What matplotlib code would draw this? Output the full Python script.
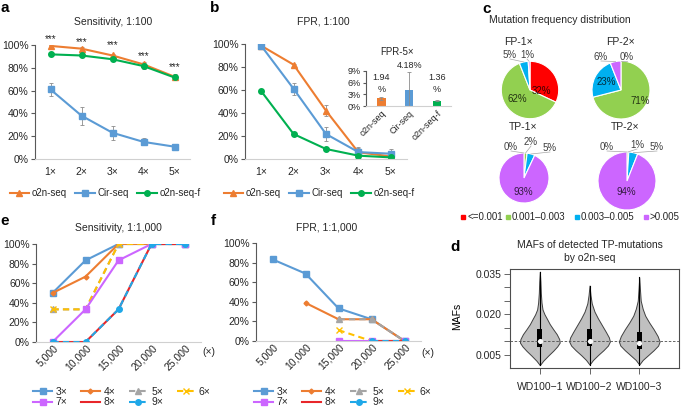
import numpy as np
import matplotlib.pyplot as plt
from matplotlib.lines import Line2D
import matplotlib.transforms as mtransforms

plt.rcParams['font.family'] = ['Liberation Sans', 'DejaVu Sans']
plt.rcParams['font.size'] = 7
plt.rcParams['text.color'] = '#262626'
plt.rcParams['xtick.color'] = '#262626'
plt.rcParams['ytick.color'] = '#262626'

# ---- data ----
folds = ['1×', '2×', '3×', '4×', '5×']
methods = ['o2n-seq', 'Cir-seq', 'o2n-seq-f']

# a: sensitivity 1:100 (%)
sens_o2n = [99.2, 96.8, 90.8, 83.0, 72.2]
sens_o2n_err = [1.0, 1.5, 1.5, 2.5, 2.5]
sens_cir = [61.0, 38.0, 23.0, 15.0, 10.8]
sens_cir_err = [6.0, 8.0, 6.0, 3.0, 2.0]
sens_o2nf = [91.8, 90.8, 87.5, 81.5, 71.5]
sens_o2nf_err = [1.0, 1.0, 1.5, 2.5, 2.0]
star_y = [105, 103, 100, 90.5, 81]

# b: FPR 1:100 (%)
fpr_o2n = [98.5, 82.0, 42.0, 5.8, 2.3]
fpr_o2n_err = [0.5, 1.0, 5.0, 3.5, 1.0]
fpr_cir = [98.5, 61.0, 21.7, 6.0, 4.6]
fpr_cir_err = [1.0, 5.0, 6.0, 4.0, 4.0]
fpr_o2nf = [59.0, 21.7, 8.7, 2.9, 1.4]
fpr_o2nf_err = [0.5, 0.5, 1.0, 0.5, 0.5]

# b inset: FPR-5x
fpr5 = [1.94, 4.18, 1.36]
fpr5_err = [0.3, 4.5, 0.15]
fpr5_label_y = [3.0, 9.2, 3.0]

# c: mutation frequency distribution (%)
pie_titles = ['FP-1×', 'FP-2×', 'TP-1×', 'TP-2×']
pie_vals = [[32, 62, 5, 1], [0, 71, 23, 6], [0, 2, 5, 93], [0, 1, 5, 94]]
maf_bins = ['<=0.001', '0.001–0.003', '0.003–0.005', '>0.005']

# d: violin outlines (MAF, half width)
vio_names = ['WD100−1', 'WD100−2', 'WD100−3']
vio_y = [
    [0.0013, 0.0029, 0.0048, 0.0066, 0.0082, 0.0096, 0.0109, 0.0127, 0.0145, 0.0164,
     0.0182, 0.0200, 0.0218, 0.0243, 0.0279, 0.0320, 0.0357],
    [0.0015, 0.0032, 0.0050, 0.0068, 0.0085, 0.0100, 0.0115, 0.0135, 0.0160, 0.0185,
     0.0210, 0.0240, 0.0270, 0.0306],
    [0.0015, 0.0032, 0.0050, 0.0068, 0.0085, 0.0100, 0.0120, 0.0145, 0.0170, 0.0195,
     0.0220, 0.0250, 0.0290, 0.0336],
]
vio_w = [
    [0.0, 0.067, 0.168, 0.27, 0.35, 0.40, 0.39, 0.34, 0.27, 0.20,
     0.148, 0.094, 0.054, 0.034, 0.02, 0.012, 0.0],
    [0.0, 0.07, 0.17, 0.28, 0.37, 0.41, 0.39, 0.33, 0.25, 0.17,
     0.10, 0.045, 0.02, 0.0],
    [0.0, 0.07, 0.18, 0.29, 0.38, 0.41, 0.37, 0.29, 0.20, 0.12,
     0.07, 0.03, 0.015, 0.0],
]
vio_q1 = [0.0079, 0.0084, 0.0072]
vio_q3 = [0.0145, 0.0145, 0.0135]
vio_med = [0.0102, 0.0102, 0.0096]

# e/f: 1:1,000 dilution
depths = ['5,000', '10,000', '15,000', '20,000', '25,000']
series_names = ['3×', '4×', '5×', '6×', '7×', '8×', '9×']
nan = np.nan
sens_1000 = [
    [50, 83.3, 100, 100, 100],
    [50, 66.7, 100, 100, 100],
    [33.3, 33.3, 100, 100, 100],
    [33.3, 33.3, 100, 100, 100],
    [0, 33.3, 83.3, 100, 100],
    [0, 0, 33.3, 100, 100],
    [0, 0, 33.3, 100, 100],
]
fpr_1000 = [
    [83.3, 68.8, 33.3, 22.2, 0],
    [nan, 38.9, 22.2, 22.2, 0],
    [nan, nan, 22.2, 22.2, 0],
    [nan, nan, 11.1, 0, 0],
    [nan, nan, 0, 0, 0],
    [nan, nan, nan, 0, 0],
    [nan, nan, nan, 0, 0],
]

# ---- styles ----
c_orange = '#ED7D31'
c_blue = '#5B9BD5'
c_green = '#00B050'
pie_colors = ['#FF0000', '#92D050', '#00B0F0', '#CC66FF']
ser_style = [
    dict(color='#5B9BD5', marker='s', ms=4, ls='-'),
    dict(color='#ED7D31', marker='D', ms=2.5, ls='-'),
    dict(color='#A5A5A5', marker='^', ms=4, ls=(0, (3, 2))),
    dict(color='#FFC000', marker='x', ms=4, ls=(0, (3, 2))),
    dict(color='#CC66FF', marker='s', ms=4, ls='-'),
    dict(color='#E8262A', marker='None', ms=0, ls='-'),
    dict(color='#1FA8E8', marker='o', ms=4, ls=(0, (3, 2))),
]

W, H = 685, 409
fig = plt.figure(figsize=(W / 100, H / 100), dpi=100)


def box(l, t, r, b):
    return [l / W, 1 - b / H, (r - l) / W, (b - t) / H]


def ftext(x, y, s, **kw):
    fig.text(x / W, 1 - y / H, s, **kw)


def excel_axes(ax):
    ax.patch.set_alpha(0)
    for s in ['top', 'right']:
        ax.spines[s].set_visible(False)
    ax.spines['left'].set_color('#595959')
    ax.spines['left'].set_linewidth(0.8)
    ax.spines['bottom'].set_color('#D0D0D0')
    ax.spines['bottom'].set_linewidth(0.8)
    ax.tick_params(axis='y', length=3, width=0.8, color='#595959', pad=1.5, labelsize=7.5)
    ax.tick_params(axis='x', length=0, pad=6, labelsize=7.5)


def pct_axis(ax, ticks):
    ax.set_yticks(ticks)
    ax.set_yticklabels([f'{t}%' for t in ticks])


x5 = np.arange(1, 6)
err_kw = dict(fmt='none', ecolor='#8c8c8c', elinewidth=0.6, capsize=1.5, capthick=0.6)

# ---- panel a ----
ax_a = fig.add_axes(box(35, 45, 190, 159))
excel_axes(ax_a)
ax_a.errorbar(x5, sens_o2n, yerr=sens_o2n_err, **err_kw)
ax_a.errorbar(x5, sens_cir, yerr=sens_cir_err, **err_kw)
ax_a.errorbar(x5, sens_o2nf, yerr=sens_o2nf_err, **err_kw)
ax_a.plot(x5, sens_o2n, color=c_orange, marker='^', ms=4, lw=1.5, label=methods[0])
ax_a.plot(x5, sens_cir, color=c_blue, marker='s', ms=4, lw=1.5, label=methods[1])
ax_a.plot(x5, sens_o2nf, color=c_green, marker='o', ms=4, lw=1.5, label=methods[2])
for xi, yi in zip(x5, star_y):
    ax_a.text(xi, yi, '***', ha='center', va='center', fontsize=7, clip_on=False)
ax_a.set_xlim(0.5, 5.5)
ax_a.set_ylim(0, 100)
ax_a.set_xticks(x5)
ax_a.set_xticklabels(folds)
pct_axis(ax_a, [0, 20, 40, 60, 80, 100])
ax_a.legend(loc='center', bbox_to_anchor=(105 / W, 1 - 193 / H), bbox_transform=fig.transFigure,
            ncol=3, frameon=False, fontsize=7, handlelength=2.0, handletextpad=0.25,
            columnspacing=0.9)
ftext(113, 22, 'Sensitivity, 1:100', ha='center', va='center', fontsize=7.5)

# ---- panel b ----
ax_b = fig.add_axes(box(245, 44, 407, 159))
excel_axes(ax_b)
ax_b.errorbar(x5, fpr_o2n, yerr=fpr_o2n_err, **err_kw)
ax_b.errorbar(x5, fpr_cir, yerr=fpr_cir_err, **err_kw)
ax_b.errorbar(x5, fpr_o2nf, yerr=fpr_o2nf_err, **err_kw)
ax_b.plot(x5, fpr_o2n, color=c_orange, marker='^', ms=4, lw=1.5, label=methods[0])
ax_b.plot(x5, fpr_cir, color=c_blue, marker='s', ms=4, lw=1.5, label=methods[1])
ax_b.plot(x5, fpr_o2nf, color=c_green, marker='o', ms=4, lw=1.5, label=methods[2])
ax_b.set_xlim(0.5, 5.5)
ax_b.set_ylim(0, 100)
ax_b.set_xticks(x5)
ax_b.set_xticklabels(folds)
pct_axis(ax_b, [0, 20, 40, 60, 80, 100])
ax_b.legend(loc='center', bbox_to_anchor=(319 / W, 1 - 193 / H), bbox_transform=fig.transFigure,
            ncol=3, frameon=False, fontsize=7, handlelength=2.0, handletextpad=0.25,
            columnspacing=0.9)
ftext(323, 21, 'FPR, 1:100', ha='center', va='center', fontsize=7.5)

# inset
ax_in = fig.add_axes(box(366, 71, 451, 106))
excel_axes(ax_in)
ax_in.bar(range(3), fpr5, width=0.3, color=[c_orange, c_blue, c_green],
          yerr=fpr5_err, error_kw=dict(ecolor='#8c8c8c', elinewidth=0.6, capsize=1.5, capthick=0.6))
for i, (v, ly) in enumerate(zip(fpr5, fpr5_label_y)):
    lab = f'{v:.2f}%' if i == 1 else f'{v:.2f}\n%'
    ax_in.text(i, ly, lab, ha='center', va='bottom', fontsize=6.5, linespacing=1.5, clip_on=False)
ax_in.set_xlim(-0.55, 2.5)
ax_in.set_ylim(0, 9)
pct_axis(ax_in, [0, 3, 6, 9])
ax_in.tick_params(axis='y', labelsize=6.5, length=2.5)
ax_in.set_xticks(range(3))
ax_in.set_xticklabels(methods, rotation=45, ha='right', va='top', rotation_mode='anchor', fontsize=6.5)
ax_in.tick_params(axis='x', pad=2)
ftext(397, 52, 'FPR-5×', ha='center', va='center', fontsize=7)

# ---- panel c ----
ftext(560, 20, 'Mutation frequency distribution', ha='center', va='center', fontsize=7.5)
pie_geom = [(530, 90, 28.7), (621, 90, 29), (524, 178, 25), (627, 181, 29)]
title_pos = [(518, 42), (620, 42), (523, 127), (625, 127)]
# label positions (px) for each wedge: red, green, blue, purple
lab_pos = [
    [(541, 91), (517, 99), (510, 55), (527, 55)],
    [(627, 57), (640, 101), (606, 82), (601, 57)],
    [(511, 147), (531, 142), (550, 148), (523, 192)],
    [(607, 147), (637, 145), (657, 147), (626, 192)],
]
inside = [[True, True, False, False], [False, True, True, False],
          [False, False, False, True], [False, False, False, True]]
for (cx, cy, r), vals, title, tp, lp, ins in zip(pie_geom, pie_vals, pie_titles, title_pos, lab_pos, inside):
    ax = fig.add_axes(box(cx - r, cy - r, cx + r, cy + r))
    ax.pie(vals, colors=pie_colors, startangle=90, counterclock=False,
           wedgeprops=dict(edgecolor='white', linewidth=0.8))
    ax.set_xlim(-1, 1)
    ax.set_ylim(-1, 1)
    ftext(tp[0], tp[1], title, ha='center', va='center', fontsize=7.5)
    start = 90.0
    for v, (lx, ly), inn in zip(vals, lp, ins):
        mid = np.deg2rad(start - v * 3.6 / 2)
        start -= v * 3.6
        ftext(lx, ly, f'{v}%', ha='center', va='center', fontsize=7, color='black', alpha=0.75)
        if not inn:
            rx, ry = cx + r * np.cos(mid), cy - r * np.sin(mid)
            fig.add_artist(Line2D([rx / W, lx / W], [1 - ry / H, 1 - (ly + 4) / H],
                                  transform=fig.transFigure, color='#a6a6a6', lw=0.5))

leg_x = [463, 508, 577, 646]
for x, col, lab in zip(leg_x, pie_colors, maf_bins):
    fig.add_artist(Line2D([x / W], [1 - 217 / H], transform=fig.transFigure, marker='s',
                          ms=3, color=col, ls='none'))
    ftext(x + 4, 217, lab, ha='left', va='center', fontsize=7)

# ---- panel d ----
ax_d = fig.add_axes(box(510, 269, 679, 368))
for s in ax_d.spines.values():
    s.set_color('#4d4d4d')
    s.set_linewidth(0.8)
for i in range(3):
    yy = np.array(vio_y[i])
    ww = np.array(vio_w[i])
    ax_d.fill_betweenx(yy, i + 1 - ww, i + 1 + ww, facecolor='#C0C0C0', edgecolor='#404040', lw=0.7)
    ax_d.plot([i + 1, i + 1], [yy[0], yy[-1]], color='black', lw=0.8)
ax_d.bar(np.arange(1, 4), np.array(vio_q3) - np.array(vio_q1), bottom=vio_q1, width=0.1, color='black')
ax_d.axhline(0.01, ls=(0, (3, 2)), color='#4d4d4d', lw=0.6, zorder=3)
ax_d.scatter(np.arange(1, 4), vio_med, s=7, color='white', zorder=4)
ax_d.set_xlim(0.4, 3.8)
ax_d.set_ylim(0.00024, 0.0367)
ax_d.set_yticks(np.arange(0.005, 0.0351, 0.005))
ax_d.set_yticklabels(['0.005', '', '', '0.020', '', '', '0.035'])
ax_d.set_xticks([1, 2, 3])
ax_d.set_xticklabels(vio_names)
ax_d.tick_params(length=4, width=0.6, labelsize=7.5, color='#4d4d4d', pad=2)
ax_d.tick_params(axis='x', pad=6)
ax_d.set_ylabel('MAFs', fontsize=7.5)
ax_d.yaxis.set_label_coords(462 / W, 1 - 316 / H, transform=fig.transFigure)
ftext(590, 245, 'MAFs of detected TP-mutations', ha='center', va='center', fontsize=7.5)
ftext(590, 258, 'by o2n-seq', ha='center', va='center', fontsize=7.5)


# ---- panels e, f ----
def dilution_panel(rect, data, title, title_xy, legend_xy, unit_xy):
    ax = fig.add_axes(box(*rect))
    excel_axes(ax)
    handles = []
    for vals, st, name in zip(data, ser_style, series_names):
        h, = ax.plot(x5, vals, lw=1.5, label=name, **st)
        handles.append(h)
    ax.set_xlim(0.5, 5.5)
    ax.set_ylim(0, 100)
    pct_axis(ax, [0, 20, 40, 60, 80, 100])
    ax.set_xticks(x5)
    ax.set_xticklabels(depths, rotation=45, ha='right', va='center', rotation_mode='anchor')
    ax.tick_params(axis='x', pad=3)
    off = mtransforms.ScaledTranslation(4 / 100, 0, fig.dpi_scale_trans)
    for lab in ax.get_xticklabels():
        lab.set_transform(lab.get_transform() + off)
    order = [0, 4, 1, 5, 2, 6, 3]
    ax.legend([handles[k] for k in order], [series_names[k] for k in order],
              loc='center', bbox_to_anchor=(legend_xy[0] / W, 1 - legend_xy[1] / H),
              bbox_transform=fig.transFigure, ncol=4, frameon=False, fontsize=7.5,
              handlelength=1.8, handletextpad=0.35, columnspacing=1.3, labelspacing=0.05)
    ftext(title_xy[0], title_xy[1], title, ha='center', va='center', fontsize=7.5)
    ftext(unit_xy[0], unit_xy[1], '(×)', ha='center', va='center', fontsize=7.5)
    return ax


dilution_panel((36, 244, 201, 342), sens_1000, 'Sensitivity, 1:1,000', (118, 228), (122, 397), (209, 352))
dilution_panel((256, 243, 421, 341), fpr_1000, 'FPR, 1:1,000', (327, 228), (343, 397), (428, 353))

# panel letters
for lab, (x, y) in zip('abcdef', [(5, 8), (215, 8), (487, 9), (455, 247), (5, 221), (213, 221)]):
    ftext(x, y, lab, ha='center', va='center', fontsize=11, fontweight='bold', color='black')

fig.savefig('out.png', dpi=100, facecolor='white')
